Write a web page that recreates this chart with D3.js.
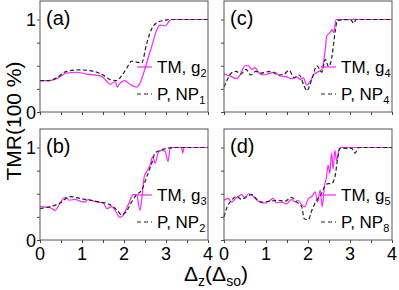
<!DOCTYPE html>
<html lang="en">
<head>
<meta charset="UTF-8">
<title>TMR panels</title>
<script src="https://d3js.org/d3.v7.min.js"></script>
<style>
  body { margin: 0; background: #fff; }
  svg { font-family: Arial, "Liberation Sans", sans-serif; }
</style>
</head>
<body>
<div id="chart"></div>
<script>
// panel (a)
const tmA = [[0,0.34],[0.2,0.34],[0.4,0.36],[0.63,0.42],[0.87,0.43],[1.11,0.41],[1.43,0.39],[1.5,0.375],[1.59,0.33],[1.67,0.30],[1.79,0.33],[1.84,0.27],[1.9,0.31],[2.02,0.34],[2.14,0.30],[2.3,0.27],[2.38,0.31],[2.46,0.41],[2.54,0.53],[2.66,0.71],[2.78,0.89],[2.86,0.94],[2.98,0.93],[3.06,0.97],[3.13,1.0],[4,1.0]];
const pA = [[0,0.34],[0.2,0.34],[0.4,0.37],[0.63,0.44],[0.95,0.455],[1.27,0.44],[1.5,0.40],[1.67,0.35],[1.83,0.34],[1.94,0.39],[2.06,0.47],[2.18,0.55],[2.3,0.54],[2.42,0.53],[2.54,0.74],[2.66,0.90],[2.78,0.965],[2.94,0.99],[3.1,1.0],[4,1.0]];
// panel (b)
const tmB = [[0,0.36],[0.24,0.35],[0.36,0.32],[0.48,0.40],[0.6,0.46],[0.71,0.43],[0.83,0.44],[0.95,0.42],[1.07,0.41],[1.15,0.44],[1.27,0.42],[1.39,0.41],[1.51,0.40],[1.59,0.34],[1.71,0.36],[1.79,0.32],[1.9,0.245],[1.98,0.27],[2.1,0.38],[2.22,0.49],[2.3,0.49],[2.38,0.32],[2.42,0.43],[2.48,0.68],[2.54,0.74],[2.62,0.81],[2.68,0.90],[2.74,0.83],[2.82,0.95],[2.9,0.97],[2.98,0.96],[3.05,0.85],[3.1,0.99],[3.17,1.0],[3.37,1.0],[3.4,0.94],[3.43,1.0],[4,1.0]];
const pB = [[0,0.34],[0.24,0.36],[0.48,0.40],[0.71,0.47],[0.95,0.45],[1.19,0.43],[1.43,0.41],[1.67,0.38],[1.86,0.31],[1.94,0.27],[2.06,0.31],[2.18,0.41],[2.3,0.49],[2.42,0.54],[2.54,0.68],[2.66,0.83],[2.74,0.94],[2.86,0.97],[3.02,0.99],[3.25,1.0],[4,1.0]];
// panel (c)
const tmC = [[0,0.41],[0.14,0.39],[0.3,0.36],[0.38,0.40],[0.5,0.50],[0.58,0.50],[0.66,0.46],[0.74,0.48],[0.82,0.43],[0.94,0.40],[1.1,0.42],[1.21,0.43],[1.33,0.39],[1.49,0.38],[1.61,0.36],[1.73,0.38],[1.81,0.35],[1.89,0.37],[1.97,0.29],[2.05,0.33],[2.13,0.40],[2.22,0.43],[2.33,0.46],[2.41,0.67],[2.45,0.83],[2.53,0.86],[2.57,0.89],[2.61,0.86],[2.67,1.0],[4,1.0]];
const pC = [[0,0.27],[0.05,0.32],[0.17,0.42],[0.29,0.44],[0.4,0.41],[0.52,0.46],[0.64,0.40],[0.76,0.44],[0.88,0.42],[1.1,0.44],[1.31,0.40],[1.43,0.41],[1.55,0.45],[1.67,0.37],[1.79,0.40],[1.9,0.29],[1.97,0.23],[2.09,0.35],[2.21,0.50],[2.33,0.43],[2.41,0.57],[2.49,0.49],[2.57,0.60],[2.65,0.88],[2.7,0.99],[3.01,1.0],[3.09,0.96],[3.15,1.0],[4,1.0]];
// panel (d)
const tmD = [[0,0.43],[0.1,0.45],[0.18,0.41],[0.26,0.44],[0.34,0.47],[0.42,0.49],[0.5,0.45],[0.58,0.50],[0.66,0.49],[0.74,0.45],[0.86,0.41],[0.98,0.40],[1.1,0.43],[1.17,0.45],[1.25,0.40],[1.37,0.41],[1.49,0.39],[1.61,0.44],[1.69,0.41],[1.77,0.43],[1.85,0.38],[1.93,0.36],[2.01,0.45],[2.09,0.47],[2.17,0.52],[2.23,0.41],[2.29,0.54],[2.34,0.36],[2.39,0.58],[2.44,0.68],[2.48,0.81],[2.52,0.72],[2.56,0.94],[2.6,0.77],[2.64,0.97],[2.68,0.86],[2.74,0.98],[2.79,1.0],[4,1.0]];
const pD = [[0,0.25],[0.06,0.34],[0.18,0.43],[0.3,0.47],[0.42,0.44],[0.54,0.47],[0.66,0.49],[0.78,0.44],[0.9,0.41],[1.1,0.42],[1.29,0.43],[1.45,0.42],[1.61,0.46],[1.73,0.41],[1.85,0.36],[1.91,0.23],[2.01,0.22],[2.09,0.32],[2.21,0.43],[2.31,0.49],[2.4,0.58],[2.48,0.61],[2.56,0.61],[2.64,0.68],[2.7,0.86],[2.76,0.99],[3.04,0.99],[3.12,0.94],[3.2,1.0],[4,1.0]];

const panelLabels = ["(a)", "(b)", "(c)", "(d)"];
const tmSubs = ["2", "3", "4", "5"];
const npSubs = ["1", "2", "4", "8"];
const xTickLabels = [0, 1, 2, 3, 4];
const yTickLabels = [0, 1];

const panels = [
  {tm: tmA, p: pA, col: 0, row: 0},
  {tm: tmB, p: pB, col: 0, row: 1},
  {tm: tmC, p: pC, col: 1, row: 0},
  {tm: tmD, p: pD, col: 1, row: 1}
];

const W = 399, H = 290;
const svg = d3.select("#chart").append("svg").attr("width", W).attr("height", H);

const colX = [40, 224], pw = 168;
const rowY = [1, 129], ph = 111;
const magenta = "#ff22ff";

panels.forEach((pn, i) => {
  const x0 = colX[pn.col], y0 = rowY[pn.row];
  const g = svg.append("g").attr("transform", `translate(${x0},${y0})`);
  const x = d3.scaleLinear().domain([0, 4]).range([0, pw]);
  const y = d3.scaleLinear().domain([0, 1.2]).range([ph, 0]);

  // ticks, no labels here
  const xa = g.append("g").attr("transform", `translate(0,${ph})`)
    .call(d3.axisBottom(x).tickValues(d3.range(0, 4.01, 0.5)).tickSize(3).tickFormat(""));
  const ya = g.append("g")
    .call(d3.axisLeft(y).tickValues(d3.range(0, 1.01, 0.25)).tickSize(3).tickFormat(""));
  [xa, ya].forEach(a => {
    a.select(".domain").remove();
    a.selectAll("line").attr("stroke", "#444");
  });

  if (pn.row === 1) {
    g.append("g").selectAll("text").data(xTickLabels).join("text")
      .attr("x", d => x(d)).attr("y", ph + 20)
      .attr("text-anchor", "middle").attr("font-size", 18).text(d => d);
  }
  if (pn.col === 0) {
    g.append("g").selectAll("text").data(yTickLabels).join("text")
      .attr("x", -4).attr("y", d => y(d) + 6.5)
      .attr("text-anchor", "end").attr("font-size", 18).text(d => d);
  }

  const line = d3.line().x(d => x(d[0])).y(d => y(d[1])).curve(d3.curveMonotoneX);

  g.append("path").datum(pn.tm).attr("d", line)
    .attr("fill", "none").attr("stroke", magenta).attr("stroke-width", 1.2);
  g.append("path").datum(pn.p).attr("d", line)
    .attr("fill", "none").attr("stroke", "#222").attr("stroke-width", 1.2)
    .attr("stroke-dasharray", "4,2.5");

  g.append("rect").attr("width", pw).attr("height", ph)
    .attr("fill", "none").attr("stroke", "#555").attr("stroke-width", 1);

  g.append("text").attr("x", 6).attr("y", 24).attr("font-size", 20).text(panelLabels[i]);

  // legend
  const lx = 97, ly1 = 66, ly2 = 93;
  g.append("line").attr("x1", lx).attr("x2", lx + 15).attr("y1", ly1).attr("y2", ly1)
    .attr("stroke", magenta).attr("stroke-width", 1.2);
  g.append("line").attr("x1", lx).attr("x2", lx + 15).attr("y1", ly2).attr("y2", ly2)
    .attr("stroke", "#222").attr("stroke-width", 1.2).attr("stroke-dasharray", "4,3");
  const t1 = g.append("text").attr("x", lx + 20).attr("y", ly1 + 6).attr("font-size", 17);
  t1.append("tspan").text("TM, g");
  t1.append("tspan").attr("font-size", 11).attr("dy", 4).text(tmSubs[i]);
  const t2 = g.append("text").attr("x", lx + 20).attr("y", ly2 + 6).attr("font-size", 17);
  t2.append("tspan").text("P, NP");
  t2.append("tspan").attr("font-size", 11).attr("dy", 4).text(npSubs[i]);
});

// axis titles
svg.append("text")
  .attr("transform", "translate(21,121) rotate(-90)")
  .attr("text-anchor", "middle").attr("font-size", 21).text("TMR(100 %)");

const xt = svg.append("text").attr("x", 216).attr("y", 281)
  .attr("text-anchor", "middle").attr("font-size", 21);
xt.append("tspan").text("Δ");
xt.append("tspan").attr("font-size", 14).attr("dy", 5).text("z");
xt.append("tspan").attr("dy", -5).text("(Δ");
xt.append("tspan").attr("font-size", 14).attr("dy", 5).text("so");
xt.append("tspan").attr("dy", -5).text(")");
</script>
</body>
</html>
